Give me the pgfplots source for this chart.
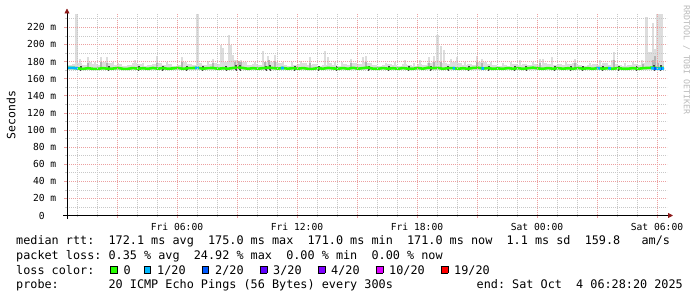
\documentclass[border=0pt]{standalone}
\usepackage{pgfplots}
\usepackage{pgfplotstable}
\pgfplotsset{compat=1.18}
\usetikzlibrary{arrows.meta}
\usepackage{fontspec}
\setmainfont{DejaVu Sans Mono}
\definecolor{lc0}{HTML}{26FF00}
\definecolor{lc1}{HTML}{00B8FF}
\definecolor{lc2}{HTML}{0059FF}
\definecolor{lc3}{HTML}{5E00FF}
\definecolor{lc4}{HTML}{7E00FF}
\definecolor{lc10}{HTML}{DD00FF}
\definecolor{lc19}{HTML}{FF0000}
\definecolor{gridred}{RGB}{236,160,160}
\definecolor{gridgrey}{RGB}{200,200,200}
\definecolor{smokeA}{RGB}{221,221,221}
\definecolor{smokeB}{RGB}{180,180,180}
\definecolor{smokeC}{RGB}{70,70,70}
\definecolor{arrowred}{RGB}{140,25,25}
\newcommand{\legfont}{\fontsize{11.85}{14}\selectfont\frenchspacing}
\newcommand{\lbox}[1]{{\setlength{\fboxsep}{0pt}\setlength{\fboxrule}{0.8pt}\raisebox{1.5bp}{\fcolorbox{black}{#1}{\rule{0pt}{6bp}\hspace{6bp}}}}}

\pgfplotstableread{
x top
0.5 176
0.75 177
1.0 178
1.25 176
1.5 179
1.75 177
2.0 176
2.25 179
2.5 178
2.75 176
3.0 177
3.25 175
3.5 176
3.75 178
4.0 177
4.25 175
4.5 176
4.75 177
5.0 178
5.25 176
5.5 177
5.75 175
6.0 176
6.25 179
6.5 177
6.75 176
7.0 178
7.25 176
7.5 177
7.75 178
8.0 177
8.25 180
8.5 181
8.75 182
9.0 180
9.25 179
9.5 176
9.75 177
10.0 176
10.25 179
10.5 181
10.75 180
11.0 178
11.25 176
11.5 175
11.75 176
12.0 177
12.25 178
12.5 176
12.75 177
13.0 175
13.25 176
13.5 178
13.75 176
14.0 175
14.25 177
14.5 176
14.75 178
15.0 177
15.25 179
15.5 178
15.75 176
16.0 175
16.25 176
16.5 177
16.75 176
17.0 175
17.25 177
17.5 176
17.75 175
18.0 177
18.25 176
18.5 178
18.75 179
19.0 180
19.25 178
19.5 177
19.75 179
20.0 178
20.25 176
20.5 177
20.75 176
21.0 179
21.25 180
21.5 177
21.75 176
22.0 175
22.25 176
22.5 175
22.75 177
23.0 176
23.25 177
23.5 176
23.75 177
24.0 176
24.25 178
24.5 177
24.75 176
25.0 177
25.25 176
25.5 177
25.75 178
26.0 176
26.25 175
26.5 176
26.75 177
27.0 176
27.25 178
27.5 176
27.75 177
28.0 176
28.25 175
28.5 176
28.75 177
29.0 176
29.25 178
29.5 180
29.75 182
30.0 181
30.1 180
}\smokebase

\pgfplotstableread{
x lo d
0.92 174 61
1.0 174 61
1.15 174 9
1.55 174 11
1.9 174 6
2.2 174 11
2.5 174 11
2.8 174 6
3.05 174 4
3.9 174 7.5
4.3 174 4
5.0 174 12
5.5 174 6
6.25 174 11
6.97 174 61
7.05 174 61
7.55 174 7
7.8 174 9
8.2 174 25
8.3 174 21.6
8.6 174 37
8.7 174 25.5
8.8 174 14
9.0 174 8
9.2 174 8
9.9 174 6
10.3 174 18
10.55 174 12
10.9 174 14
11.3 174 6
11.75 174 5
12.2 174 7
12.65 174 11
13.4 174 18.5
13.55 174 11
13.9 174 5
14.25 174 5
14.7 174 8.6
15.28 174 11
15.45 174 12
16.45 174 4
16.9 174 5.5
17.4 174 7.5
17.85 174 4
18.15 174 7.5
18.6 174 11
18.85 174 12
18.97 174 36.5
19.05 174 36.5
19.2 174 24.7
19.35 174 19.6
19.7 174 8.6
20.0 174 11
20.4 174 5.5
21.0 174 12
21.25 174 8.6
21.7 174 5
22.3 174 4
22.7 174 5.5
23.15 174 7.5
23.8 174 5
24.15 174 8.6
24.3 174 8.6
24.75 174 11
25.45 174 5.5
25.9 174 9.5
26.65 174 4
27.15 174 7.5
27.5 174 4
27.75 174 7.5
27.85 174 17.7
28.4 174 4
28.8 174 5
29.25 174 7.5
29.42 174 58
29.5 174 58
29.58 174 17.7
29.7 174 17.7
29.8 174 51
29.9 174 21
30.0 174 61
30.08 174 61
30.16 174 61
30.25 174 61
}\spikes

\pgfplotstableread{
x lo d
1.55 173 5
2.2 173 6
2.5 173 5
5.0 173 5
6.25 173 6
7.8 173 5
8.9 173 7
9.1 173 8
9.2 173 6
10.4 173 7
10.6 173 9
10.9 173 8
12.65 173 5
14.7 173 5
15.45 173 6
18.6 173 5
18.85 173 6
19.2 173 7
21.0 173 6
21.25 173 5
24.15 173 5
25.9 173 5
27.85 173 9
29.3 173 4
29.8 173 9
29.9 173 13
30.05 173 5
}\smokemid

\pgfplotstableread{
x lo d
1.2 169.5 5.5
2.6 169.5 5.5
4.1 169.5 5.5
5.3 169.5 5.5
6.5 169.5 5.5
7.3 169.5 5.5
8.45 169.5 5.5
8.95 169.5 6.5
9.15 169.5 6.5
10.45 169.5 5.5
10.65 169.5 6
11.9 169.5 5.5
13.1 169.5 5.5
14.0 169.5 5.5
15.6 169.5 5.5
16.6 169.5 5.5
17.6 169.5 5.5
18.7 169.5 5.5
19.55 169.5 5.5
20.6 169.5 5.5
21.6 169.5 5.5
22.9 169.5 5.5
23.45 169.5 5.5
24.9 169.5 5.5
25.7 169.5 5.5
26.3 169.5 5.5
27.3 169.5 5.5
28.1 169.5 5.5
29.0 169.5 5.5
29.85 169.5 7
30.2 169.5 6
}\smokedark

\pgfplotstableread{
x y
0.55 172.6
0.8 172.6
1.05 172.0
1.3 171.4
1.55 172.2
1.8 171.5
2.05 171.5
2.3 172.3
2.55 171.5
2.8 171.8
3.05 172.5
3.3 171.5
3.55 171.5
3.8 172.4
4.05 171.6
4.3 172.2
4.55 171.5
4.8 172.5
5.05 171.6
5.3 172.4
5.55 171.5
5.8 172.0
6.05 172.6
6.3 171.5
6.55 172.2
6.8 172.4
7.05 172.6
7.3 171.6
7.55 172.3
7.8 172.5
8.05 171.5
8.3 172.2
8.55 171.6
8.8 172.5
9.05 173.0
9.3 172.5
9.55 171.5
9.8 172.3
10.05 171.6
10.3 172.3
10.55 172.8
10.8 172.4
11.05 171.7
11.3 172.5
11.55 171.6
11.8 172.3
12.05 171.6
12.3 172.4
12.55 171.5
12.8 171.5
13.05 172.3
13.3 171.6
13.55 172.6
13.8 172.0
14.05 171.5
14.3 172.4
14.55 171.5
14.8 172.7
15.05 171.6
15.3 172.3
15.55 172.9
15.8 171.7
16.05 171.5
16.3 172.4
16.55 171.6
16.8 172.2
17.05 171.5
17.3 172.4
17.55 171.6
17.8 171.6
18.05 172.5
18.3 171.6
18.55 172.8
18.8 172.2
19.05 172.6
19.3 171.5
19.55 172.3
19.8 172.3
20.05 171.5
20.3 172.2
20.55 171.5
20.8 172.5
21.05 172.8
21.3 171.8
21.55 172.4
21.8 171.5
22.05 172.0
22.3 171.5
22.55 172.4
22.8 171.6
23.05 172.3
23.3 171.5
23.55 172.2
23.8 172.8
24.05 172.0
24.3 171.5
24.55 172.4
24.8 171.6
25.05 172.3
25.3 171.6
25.55 172.2
25.8 171.5
26.05 172.5
26.3 171.6
26.55 172.2
26.8 171.5
27.05 172.4
27.3 171.6
27.55 172.3
27.8 171.5
28.05 172.4
28.3 171.6
28.55 171.6
28.8 172.3
29.05 171.5
29.3 172.2
29.55 172.6
29.8 172.8
30.05 172.3
30.35 172.6
}\median

\begin{document}
\begin{tikzpicture}
\path[use as bounding box] (0bp,0bp) rectangle (697bp,297bp);
\begin{axis}[
  at={(67bp,81.5bp)}, anchor=south west,
  scale only axis, width=600bp, height=201bp,
  xmin=0.5, xmax=30.5, ymin=0, ymax=235,
  enlargelimits=false,
  axis lines=left,
  axis on top,
  axis line style={black, line width=0.8pt, shorten >=-6bp, shorten <=-3.5bp,
     -{Triangle[length=5bp,width=5bp,color=arrowred]}},
  xtick={3,6,...,30},
  minor xtick={1,2,4,5,7,8,10,11,13,14,16,17,19,20,22,23,25,26,28,29},
  xticklabels={,Fri 06:00,,Fri 12:00,,Fri 18:00,,Sat 00:00,,Sat 06:00},
  ytick={0,20,...,220},
  minor ytick={10,30,...,230},
  yticklabels={0\phantom{ m},20 m,40 m,60 m,80 m,100 m,120 m,140 m,160 m,180 m,200 m,220 m},
  grid=both,
  major grid style={gridred, line width=0.6pt, dash pattern=on 1bp off 1bp},
  minor grid style={gridgrey, line width=0.6pt, dash pattern=on 1bp off 1bp},
  tick align=outside,
  major tick length=3bp, minor tick length=2bp,
  major tick style={gridred, line width=0.6pt},
  minor tick style={gridgrey, line width=0.6pt},
  xticklabel style={font=\fontsize{9.7}{11}\selectfont, anchor=north, inner sep=0pt, yshift=-4.5bp},
  yticklabel style={font=\fontsize{9.7}{11}\selectfont, anchor=east, inner sep=0pt, xshift=-7.5bp},
  ylabel={Seconds},
  ylabel style={font=\fontsize{11.5}{13}\selectfont, at={(axis description cs:-0.0933,0.5)}, anchor=center, inner sep=0pt},
  unbounded coords=jump,
  clip=true,
]
% smoke base
\addplot[draw=none, mark=none, forget plot, error bars/.cd, y dir=plus, y explicit, error mark=none,
  error bar style={draw=smokeA, line width=5.3bp}]
  table[x expr=\thisrow{x}+0.125, y expr=170, y error expr=\thisrow{top}-170] {\smokebase};
% smoke spikes
\addplot[draw=none, mark=none, forget plot, error bars/.cd, y dir=plus, y explicit, error mark=none,
  error bar style={draw=smokeA, line width=1.8bp}] table[x=x, y=lo, y error=d] {\spikes};
\addplot[draw=none, mark=none, forget plot, error bars/.cd, y dir=plus, y explicit, error mark=none,
  error bar style={draw=smokeB, line width=1.7bp}] table[x=x, y=lo, y error=d] {\smokemid};
\addplot[draw=none, mark=none, forget plot, error bars/.cd, y dir=plus, y explicit, error mark=none,
  error bar style={draw=smokeC, line width=1.2bp}] table[x=x, y=lo, y error=d] {\smokedark};
% median rtt, loss colour 0
\addplot[lc0, line width=2.6bp, line join=round] table[x=x,y=y] {\median};
% loss colour 1/20
\addplot[lc1, line width=2.6bp] coordinates {
 (0.55,172.6) (0.8,172.6) (1.05,172.0) (nan,nan)
 (6.9,172.5) (7.1,172.6) (nan,nan)
 (11.2,172.5) (11.35,172.3) (nan,nan)
 (19.78,172.3) (19.9,172.1) (nan,nan)
 (21.22,172.0) (21.36,171.8) (nan,nan)
 (26.98,172.4) (27.15,172.1) (nan,nan)
 (27.55,172.3) (27.7,172.0) (nan,nan)
 (29.7,172.4) (29.85,171.8) (30.1,171.5) (30.35,172.0)};
% loss colour 2/20
\addplot[lc2, line width=2.6bp] coordinates {(29.86,172.0) (29.96,172.0) (nan,nan) (30.18,171.6) (30.26,171.6)};
\end{axis}
% y watermark
\node[rotate=-90, font=\fontsize{8.3}{9}\selectfont, text=gray!55, anchor=center, inner sep=0pt] at (686.5bp,237bp) {RRDTOOL / TOBI OETIKER};
% legend
\node[anchor=base west, inner sep=0pt, font=\legfont] at (16bp,52bp) {median rtt:~~172.1 ms avg~~175.0 ms max~~171.0 ms min~~171.0 ms now~~1.1 ms sd~~159.8~~~am/s};
\node[anchor=base west, inner sep=0pt, font=\legfont] at (16bp,37.5bp) {packet loss: 0.35 \% avg~~24.92 \% max~~0.00 \% min~~0.00 \% now};
\node[anchor=base west, inner sep=0pt, font=\legfont] at (16bp,23bp) {loss color:};
\node[anchor=base west, inner sep=0pt] at (110bp,23bp) {\lbox{lc0}};
\node[anchor=base west, inner sep=0pt, font=\legfont] at (123.5bp,23bp) {0};
\node[anchor=base west, inner sep=0pt] at (143.5bp,23bp) {\lbox{lc1}};
\node[anchor=base west, inner sep=0pt, font=\legfont] at (157bp,23bp) {1/20};
\node[anchor=base west, inner sep=0pt] at (201.5bp,23bp) {\lbox{lc2}};
\node[anchor=base west, inner sep=0pt, font=\legfont] at (215bp,23bp) {2/20};
\node[anchor=base west, inner sep=0pt] at (259.5bp,23bp) {\lbox{lc3}};
\node[anchor=base west, inner sep=0pt, font=\legfont] at (273bp,23bp) {3/20};
\node[anchor=base west, inner sep=0pt] at (317.5bp,23bp) {\lbox{lc4}};
\node[anchor=base west, inner sep=0pt, font=\legfont] at (331bp,23bp) {4/20};
\node[anchor=base west, inner sep=0pt] at (375.5bp,23bp) {\lbox{lc10}};
\node[anchor=base west, inner sep=0pt, font=\legfont] at (389bp,23bp) {10/20};
\node[anchor=base west, inner sep=0pt] at (440.5bp,23bp) {\lbox{lc19}};
\node[anchor=base west, inner sep=0pt, font=\legfont] at (454bp,23bp) {19/20};
\node[anchor=base west, inner sep=0pt, font=\legfont] at (16bp,9bp) {probe:~~~~~~~20 ICMP Echo Pings (56 Bytes) every 300s};
\node[anchor=base east, inner sep=0pt, font=\legfont] at (683bp,9bp) {end: Sat Oct~~4 06:28:20 2025};
\end{tikzpicture}
\end{document}
